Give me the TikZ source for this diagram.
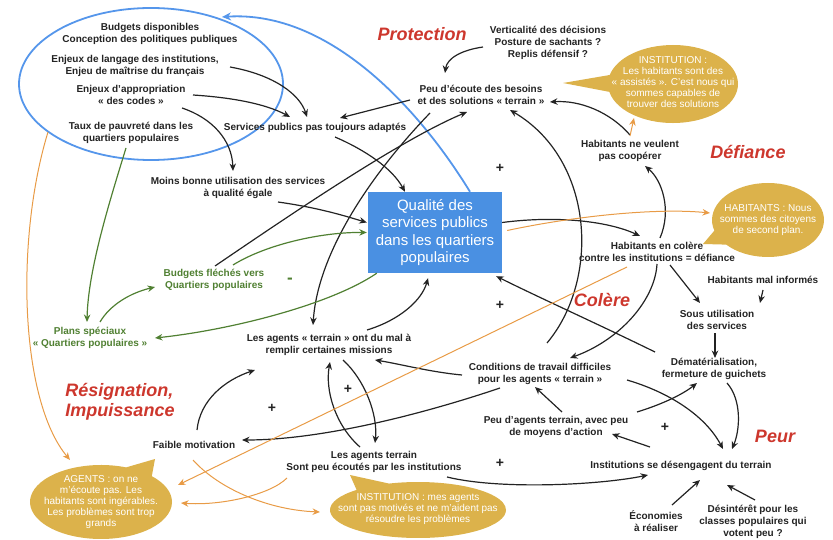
\documentclass[tikz,border=0pt]{standalone}
\usepackage{fontspec}
\setmainfont{Liberation Sans}
\usetikzlibrary{arrows.meta,shapes.geometric,shapes.callouts,calc}
\definecolor{qblue}{RGB}{74,144,226}
\definecolor{lblue}{RGB}{85,150,235}
\definecolor{qgreen}{RGB}{80,128,50}
\definecolor{qred}{RGB}{205,55,45}
\definecolor{qgold}{RGB}{220,178,75}
\definecolor{qorange}{RGB}{232,155,70}
\definecolor{qtext}{RGB}{35,35,35}
\begin{document}
\begin{tikzpicture}[x=1pt,y=-1pt,
 lbl/.style={font=\fontsize{10}{12}\selectfont\bfseries, align=center, text=qtext, inner sep=1pt},
 glbl/.style={lbl, text=qgreen},
 theme/.style={font=\fontsize{18}{20}\selectfont\bfseries\itshape, text=qred, align=left, inner sep=0pt},
 plus/.style={font=\fontsize{14}{14}\selectfont\bfseries, text=qtext, inner sep=0pt},
 ar/.style={draw=qtext, line width=1.2pt, -{Stealth[length=7.5pt,width=6.5pt]}},
 gar/.style={ar, draw=qgreen},
 oar/.style={ar, draw=qorange, line width=1pt},
 bar/.style={draw=lblue, line width=1.8pt, -{Stealth[length=9pt,width=8pt]}},
 bubble/.style={ellipse callout, fill=qgold, draw=none, inner sep=0pt, callout pointer arc=25},
 btext/.style={font=\fontsize{10}{11.2}\selectfont, text=white, align=center, inner sep=0pt},
]
\useasboundingbox (0,0) rectangle (833,540);

% ---- callouts (background)
\node[bubble, minimum width=130pt, minimum height=78pt, callout absolute pointer={(563,83)}] (instA) at (673,84) {};
\node[btext] (instAt) at (673,82) {INSTITUTION :\\Les habitants sont des\\«~assistés~». C’est nous qui\\sommes capables de\\trouver des solutions};
\node[bubble, minimum width=112pt, minimum height=74pt, callout absolute pointer={(703,244)}] (habC) at (768,220) {};
\node[btext] (habCt) at (768,220) {HABITANTS : Nous\\sommes des citoyens\\de second plan.};
\node[bubble, minimum width=142pt, minimum height=74pt, callout absolute pointer={(155,459)}] (agents) at (101,502) {};
\node[btext, font=\fontsize{10}{10.8}\selectfont] (agentst) at (101,502) {AGENTS : on ne\\m’écoute pas. Les\\habitants sont ingérables.\\Les problèmes sont trop\\grands};
\node[bubble, minimum width=176pt, minimum height=56pt, callout absolute pointer={(350,475)}] (instB) at (418,510) {};
\node[btext] (instBt) at (418,509) {INSTITUTION : mes agents\\sont pas motivés et ne m’aident pas\\résoudre les problèmes};

% ---- ellipse and central box
\node[draw=lblue, line width=1.8pt, ellipse, minimum width=264pt, minimum height=152pt, inner sep=0pt] (ell) at (151,84) {};
\node[fill=qblue, minimum width=134pt, minimum height=81pt, font=\fontsize{15}{17.5}\selectfont, text=white, align=center, inner sep=0pt] (box) at (435,232.5) {Qualité des\\services publics\\dans les quartiers\\populaires};

% ---- labels
\node[lbl] (bud) at (150,34) {Budgets disponibles\\Conception des politiques publiques};
\node[lbl] (lang) at (135,66) {Enjeux de langage des institutions,\\Enjeu de maîtrise du français};
\node[lbl] (appr) at (131,95) {Enjeux d’appropriation\\«~des codes~»};
\node[lbl] (taux) at (131,133) {Taux de pauvreté dans les\\quartiers populaires};
\node[lbl] (svc) at (315,128) {Services publics pas toujours adaptés};
\node[theme] (prot) at (422,34) {Protection};
\node[lbl] (vert) at (548,43) {Verticalité des décisions\\Posture de sachants ?\\Replis défensif ?};
\node[lbl] (ecoute) at (481,95) {Peu d’écoute des besoins\\et des solutions «~terrain~»};
\node[lbl] (coop) at (630,151) {Habitants ne veulent\\pas coopérer};
\node[theme] (defi) at (748,152) {Défiance};
\node[plus] (p1) at (500,168) {+};
\node[lbl] (moins) at (238,188) {Moins bonne utilisation des services\\à qualité égale};
\node[glbl] (bfl) at (214,280) {Budgets fléchés vers\\Quartiers populaires};
\node[glbl, font=\fontsize{17}{17}\selectfont\bfseries] (minus) at (290,281) {-};
\node[glbl] (plans) at (90,338) {Plans spéciaux\\«~Quartiers populaires~»};
\node[lbl] (mal) at (329,345) {Les agents «~terrain~» ont du mal à\\remplir certaines missions};
\node[lbl] (col) at (657,252) {Habitants en colère\\contre les institutions = défiance};
\node[lbl] (malinf) at (763,280) {Habitants mal informés};
\node[theme] (colere) at (602,300) {Colère};
\node[lbl] (sous) at (717,320) {Sous utilisation\\des services};
\node[lbl] (demat) at (714,369) {Dématérialisation,\\fermeture de guichets};
\node[lbl] (cond) at (540,374) {Conditions de travail difficiles\\pour les agents «~terrain~»};
\node[plus] (p2) at (500,305) {+};
\node[lbl] (peuag) at (556,427) {Peu d’agents terrain, avec peu\\de moyens d’action};
\node[plus] (p3) at (665,427) {+};
\node[theme] (peur) at (775,436) {Peur};
\node[lbl] (inst) at (681,466) {Institutions se désengagent du terrain};
\node[plus] (p4) at (500,463) {+};
\node[lbl] (eco) at (656,521) {Économies\\à réaliser};
\node[lbl] (desint) at (753,522) {Désintérêt pour les\\classes populaires qui\\votent peu ?};
\node[lbl] (ecout2) at (374,462) {Les agents terrain\\Sont peu écoutés par les institutions};
\node[lbl] (faible) at (194,445) {Faible motivation};
\node[theme] (resig) at (120,402) {Résignation,\\Impuissance};
\node[plus] (p5) at (272,408) {+};
\node[plus] (p6) at (348,389) {+};

% ---- blue arrow
\draw[bar] ([shift={(35,0)}]box.north) .. controls (420,110) and (330,10) .. ([shift={(71,-67)}]ell.center);

% ---- black connectors
\draw[ar] ([shift={(95,1)}]lang.center) .. controls (275,75) and (300,95) .. ([shift={(-8,-11)}]svc.center);
\draw[ar] ([shift={(62,0)}]appr.center) .. controls (240,98) and (270,106) .. ([shift={(-25,-11)}]svc.center);
\draw[ar] ([shift={(51,13)}]appr.center) .. controls (212,118) and (232,140) .. ([shift={(-5,-17)}]moins.center);
\draw[ar] ([shift={(-71,5)}]ecoute.center) -- ([shift={(25,-10)}]svc.center);
\draw[ar] ([shift={(20,9)}]svc.center) .. controls (365,150) and (392,168) .. ([shift={(-30,0)}]box.north);
\draw[ar] ([shift={(40,14)}]moins.center) .. controls (320,208) and (345,216) .. ([shift={(-1,-10)}]box.west);
\draw[ar] ([shift={(1,-14)}]bfl.center) .. controls (290,215) and (400,140) .. ([shift={(-14,17)}]ecoute.center);
\draw[ar] ([shift={(-51,18)}]ecoute.center) .. controls (375,170) and (318,250) .. ([shift={(-16,-20)}]mal.center);
\draw[ar] ([shift={(0,-10)}]box.east) .. controls (560,215) and (610,222) .. ([shift={(-17,-16)}]col.center);
\draw[ar] ([shift={(3,-14)}]col.center) .. controls (672,210) and (662,180) .. ([shift={(15,15)}]coop.center);
\draw[ar] ([shift={(0,-16)}]coop.center) .. controls (610,112) and (580,100) .. ([shift={(69,7)}]ecoute.center);
\draw[ar] ([shift={(7,-31)}]cond.center) .. controls (600,280) and (595,160) .. ([shift={(29,15)}]ecoute.center);
\draw[ar] ([shift={(0,12)}]col.center) .. controls (655,300) and (620,340) .. ([shift={(30,-16)}]cond.center);
\draw[ar] ([shift={(13,13)}]col.center) -- ([shift={(-17,-17)}]sous.center);
\draw[ar] ([shift={(0,10)}]malinf.center) -- ([shift={(43,-17)}]sous.center);
\draw[ar] ([shift={(-2,13)}]sous.center) -- ([shift={(1,-11)}]demat.center);
\draw[ar] ([shift={(-59,-17)}]demat.center) .. controls (600,325) and (540,298) .. ([shift={(-6,3)}]box.south east);
\draw[ar] ([shift={(13,14)}]demat.center) .. controls (742,400) and (740,430) .. ([shift={(51,-17)}]inst.center);
\draw[ar] ([shift={(87,6)}]cond.center) .. controls (668,392) and (705,415) .. ([shift={(42,-17)}]inst.center);
\draw[ar] ([shift={(81,-15)}]peuag.center) .. controls (660,405) and (682,395) .. ([shift={(-17,14)}]demat.center);
\draw[ar] ([shift={(-31,-19)}]inst.center) -- ([shift={(56,7)}]peuag.center);
\draw[ar] ([shift={(6,-15)}]peuag.center) -- ([shift={(-5,13)}]cond.center);
\draw[ar] ([shift={(-78,1)}]cond.center) .. controls (430,372) and (400,364) .. ([shift={(46,15)}]mal.center);
\draw[ar] ([shift={(-40,14)}]cond.center) .. controls (420,415) and (320,440) .. ([shift={(48,-5)}]faible.center);
\draw[ar] ([shift={(3,-15)}]faible.center) .. controls (200,400) and (225,380) .. ([shift={(-74,25)}]mal.center);
\draw[ar] ([shift={(-14,-15)}]ecout2.center) .. controls (335,425) and (325,390) .. ([shift={(1,17)}]mal.center);
\draw[ar] ([shift={(14,15)}]mal.center) .. controls (365,380) and (378,415) .. ([shift={(1,-19)}]ecout2.center);
\draw[ar] ([shift={(38,-15)}]mal.center) .. controls (400,320) and (422,300) .. ([shift={(-7,5)}]box.south);
\draw[ar] ([shift={(73,15)}]ecout2.center) .. controls (500,490) and (600,485) .. ([shift={(-33,9)}]inst.center);
\draw[ar] ([shift={(16,-16)}]eco.center) -- ([shift={(19,14)}]inst.center);
\draw[ar] ([shift={(2,-22)}]desint.center) -- ([shift={(46,19)}]inst.center);
\draw[ar] ([shift={(-65,4)}]vert.center) .. controls (462,50) and (447,58) .. ([shift={(-36,-22)}]ecoute.center);

% ---- green connectors
\draw[gar] ([shift={(19,-15)}]bfl.center) .. controls (265,245) and (320,232) .. ([shift={(-1,0)}]box.west);
\draw[gar] ([shift={(10,-16)}]plans.center) .. controls (110,305) and (130,293) .. ([shift={(-59,7)}]bfl.center);
\draw[gar] ([shift={(-5,15)}]taux.center) .. controls (110,200) and (88,270) .. ([shift={(-3,-16)}]plans.center);
\draw[gar] ([shift={(9,0)}]box.south west) .. controls (330,305) and (230,330) .. ([shift={(65,0)}]plans.center);

% ---- orange connectors
\draw[oar] ([shift={(5,-2)}]box.east) .. controls (580,215) and (660,208) .. ([shift={(-58,-7)}]habC.center);
\draw[oar] ([shift={(-103,48)}]ell.center) .. controls (15,240) and (20,400) .. ([shift={(-31,-42)}]agents.center);
\draw[oar] ([shift={(-30,15)}]col.center) -- ([shift={(77,-17)}]agents.center);
\draw[oar] ([shift={(-87,16)}]ecout2.center) .. controls (270,495) and (220,506) .. ([shift={(80,1)}]agents.center);
\draw[oar] ([shift={(-1,15)}]faible.center) .. controls (220,490) and (270,510) .. ([shift={(-98,2)}]instB.center);
\draw[oar] ([shift={(0,-15)}]coop.center) -- ([shift={(-39,34)}]instA.center);
\end{tikzpicture}
\end{document}
